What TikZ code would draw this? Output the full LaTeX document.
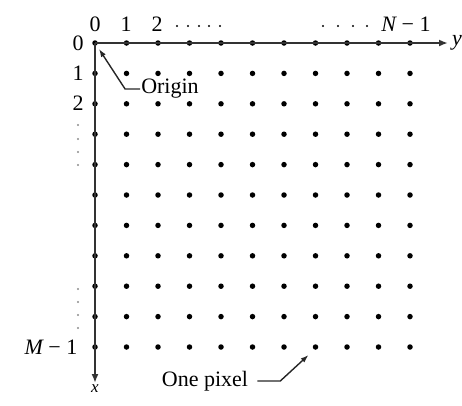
\documentclass[tikz,border=0pt]{standalone}
\usepackage{fontspec}
\setmainfont{Liberation Serif}
\usetikzlibrary{arrows.meta,positioning}
\definecolor{axisgray}{gray}{0.2}
\definecolor{dotgray}{gray}{0.55}

\begin{document}
\begin{tikzpicture}[x=1pt, y=-1pt,
  pix/.style={circle, fill=black, inner sep=0pt, minimum size=5.5pt},
  lbl/.style={font=\fontsize{22}{26}\selectfont, inner sep=1pt},
  axis/.style={draw=axisgray, line width=2.2pt, -{Latex[length=9pt,width=7pt]}},
  pointer/.style={draw=black!85, line width=1.4pt, -{Latex[length=8pt,width=5.5pt]}},
]
  \useasboundingbox (0,0) rectangle (462,405);

  % grid of pixels
  \foreach \i in {0,...,10}
    \foreach \j in {0,...,10}
      \node[pix] (p-\i-\j) at ({95+31.5*\j},{43+30.4*\i}) {};

  % axes
  \coordinate (yend) at (448,43);
  \coordinate (xend) at (95,383);
  \draw[axis] (p-0-0.center) -- (yend);
  \draw[axis] (p-0-0.center) -- (xend);
  \node[lbl, font=\fontsize{22}{26}\selectfont\itshape, right=3pt of yend] (ylab) {y};
  \node[lbl, font=\fontsize{17}{20}\selectfont\itshape, below=0pt of xend] (xlab) {x};

  % column labels
  \node[lbl] (c0) at (95,24) {0};
  \node[lbl] (c1) at (126,24) {1};
  \node[lbl] (c2) at (157,24) {2};
  \node[lbl] (cN) at (406,24) {{\itshape N} − 1};
  \foreach \x in {177,188,199,209,220,323,338,353,367}
    \fill (\x,26) circle (1.1pt);

  % row labels
  \node[lbl] (r0) at (78,43) {0};
  \node[lbl] (r1) at (78,73) {1};
  \node[lbl] (r2) at (78,103) {2};
  \node[lbl] (rM) at (51,347) {{\itshape M} − 1};
  \foreach \y in {125,139,152,165,289,302,315,328}
    \fill[dotgray] (78,\y) circle (1.2pt);

  % callouts
  \node[lbl] (origin) at (170,89) {Origin};
  \draw[pointer] (origin.west) -- ++(-15,0) -- ([shift={(4,6)}]p-0-0.center);
  \node[lbl] (onepx) at (205,381) {One pixel};
  \draw[pointer] ([xshift=8pt]onepx.east) -- ++(23,0) -- ([shift={(-7,8)}]p-10-7.center);
\end{tikzpicture}
\end{document}
